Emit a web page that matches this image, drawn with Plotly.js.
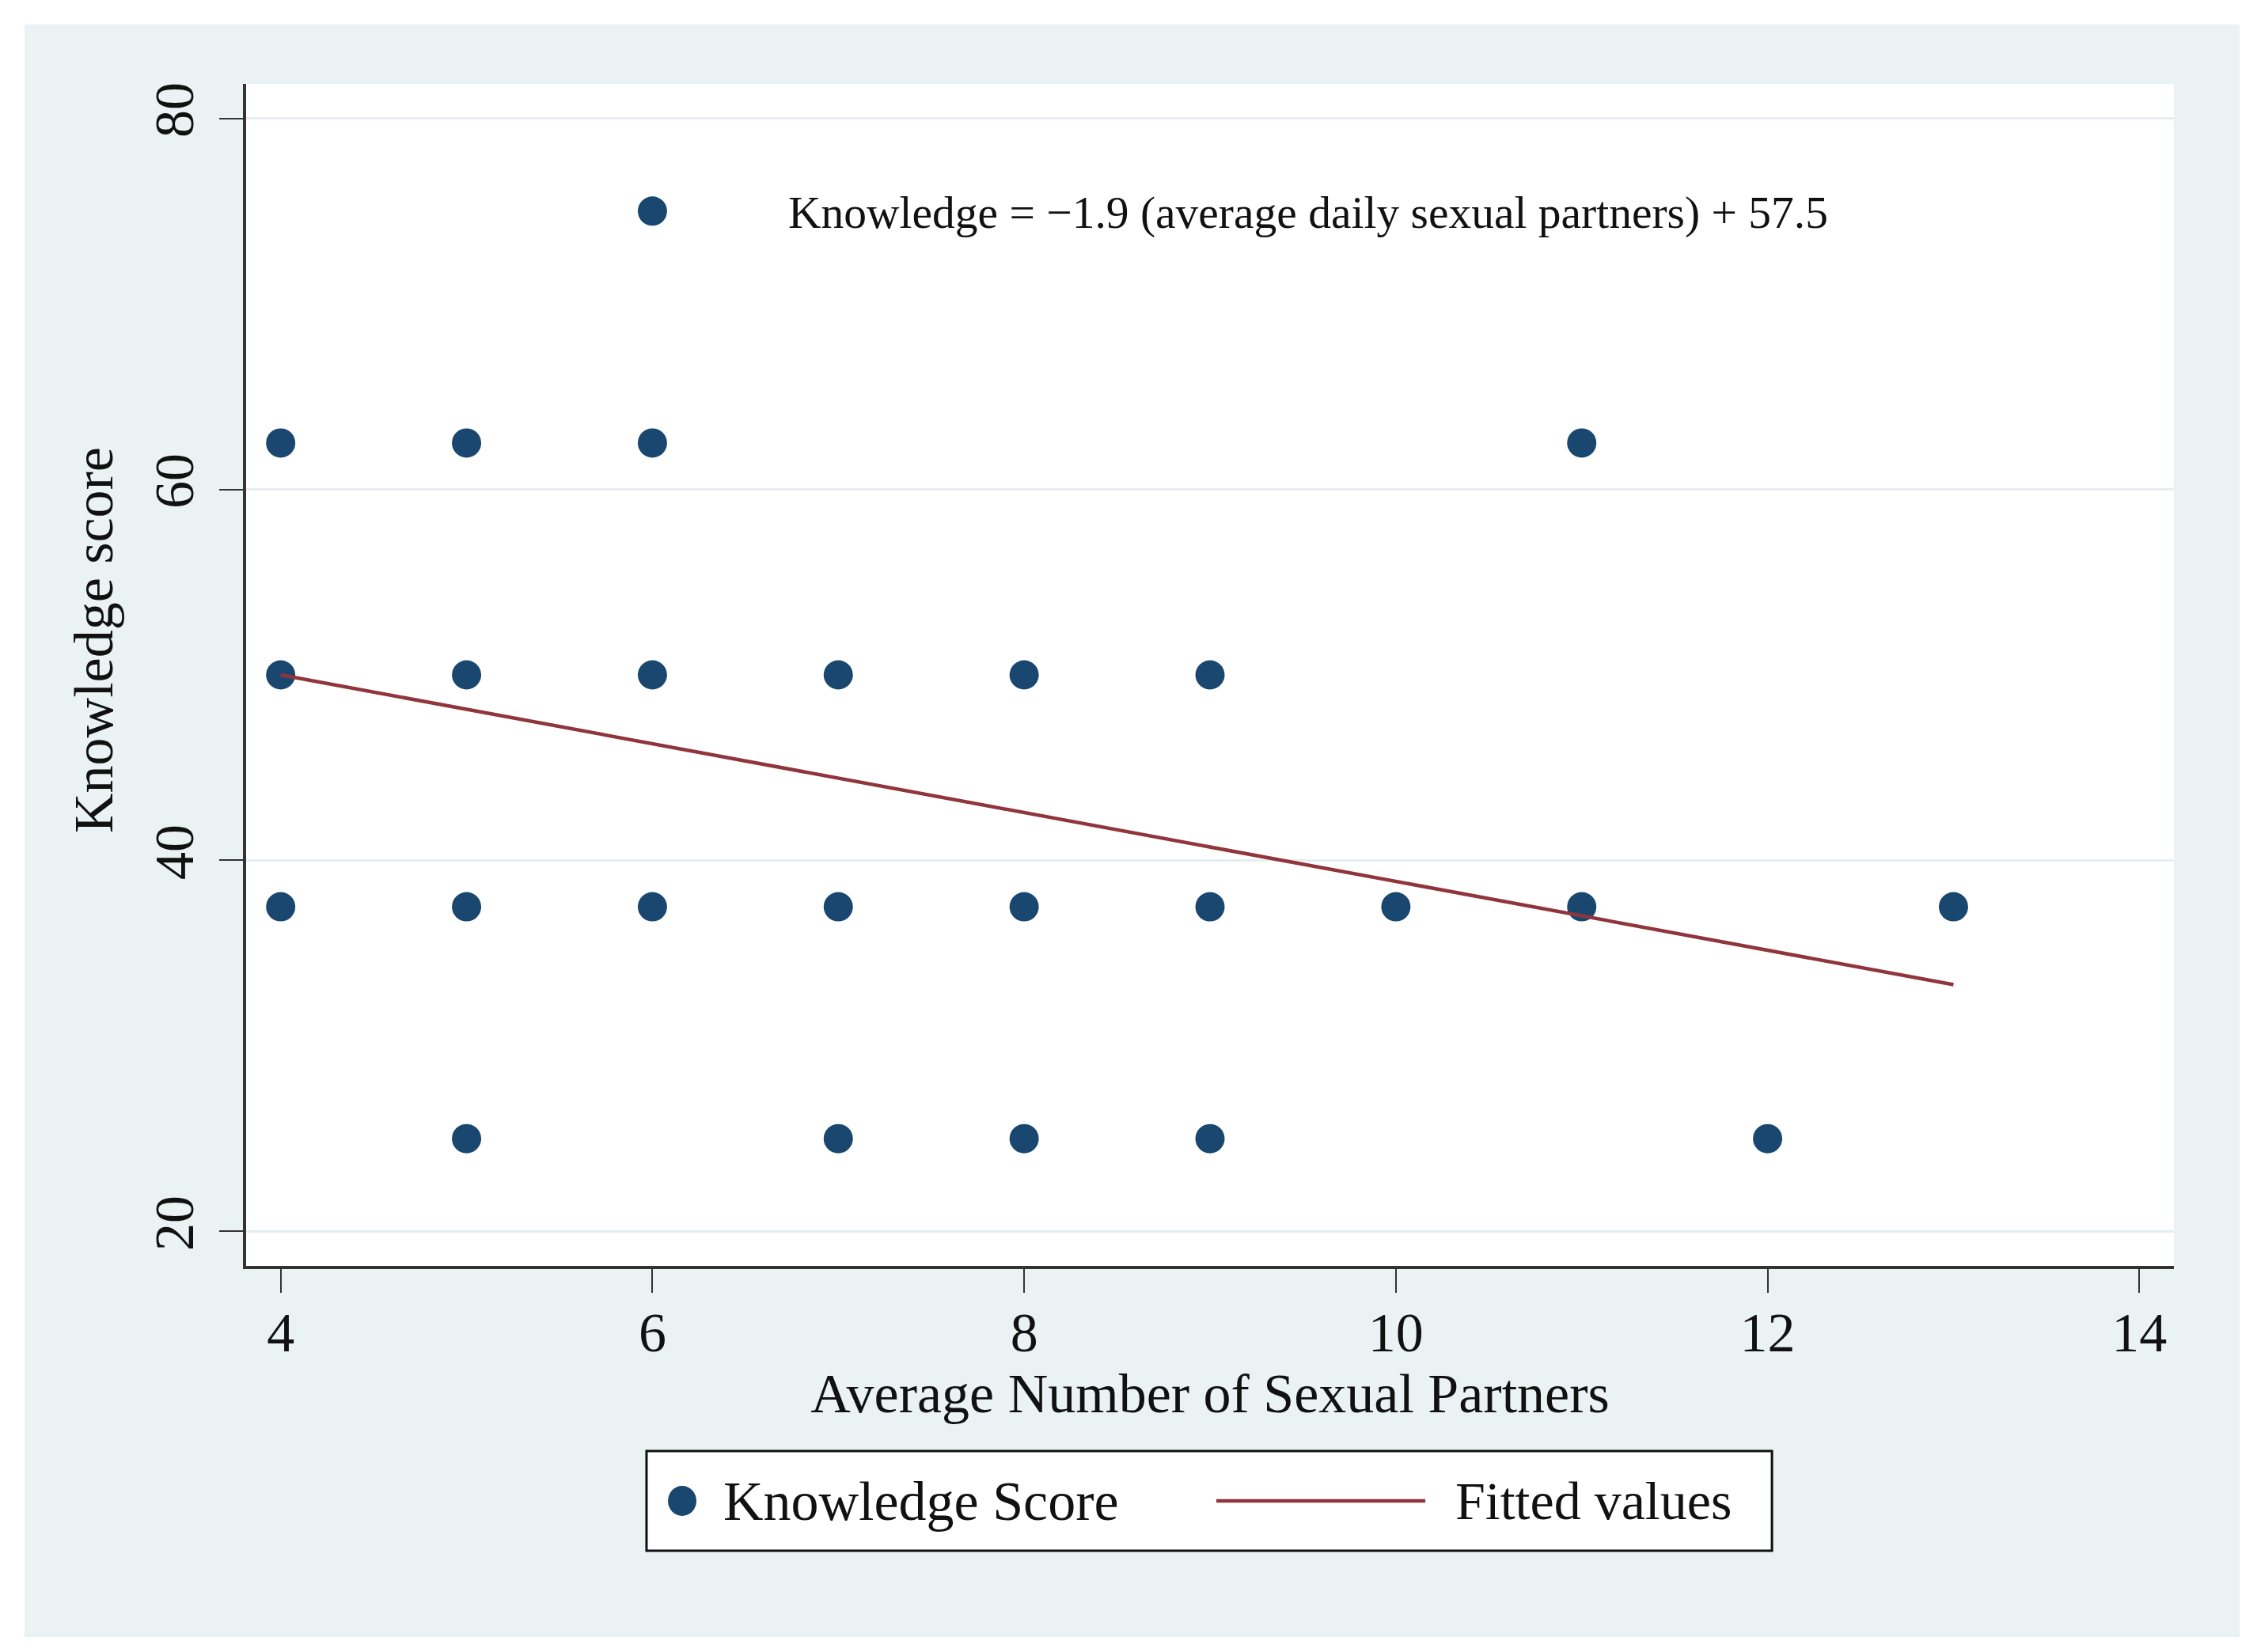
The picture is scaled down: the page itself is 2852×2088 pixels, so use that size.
<!DOCTYPE html>
<html>
<head>
<meta charset="utf-8">
<script src="https://cdn.plot.ly/plotly-3.0.1.min.js"></script>
<style>
  html, body { margin: 0; padding: 0; background: #ffffff; }
  #chart { position: absolute; left: 31px; top: 31px; width: 2799px; height: 2038px; }
</style>
</head>
<body>
<div id="chart"></div>
<script>
// Data
const partnersX = [4, 4, 4,
                   5, 5, 5, 5,
                   6, 6, 6, 6,
                   7, 7, 7,
                   8, 8, 8,
                   9, 9, 9,
                   10,
                   11, 11,
                   12,
                   13];
const knowledgeY = [62.5, 50, 37.5,
                    62.5, 50, 37.5, 25,
                    75, 62.5, 50, 37.5,
                    50, 37.5, 25,
                    50, 37.5, 25,
                    50, 37.5, 25,
                    37.5,
                    62.5, 37.5,
                    25,
                    37.5];
const fittedX = [4, 13];
const fittedY = [50.0, 33.3];

const xTicks = [4, 6, 8, 10, 12, 14];
const yTicks = [20, 40, 60, 80];

const seriesNames = ['Knowledge Score', 'Fitted values'];
const equationText = 'Knowledge = \u22121.9 (average daily sexual partners) + 57.5';
const xTitle = 'Average Number of Sexual Partners';
const yTitle = 'Knowledge score';

const navy = '#1a476f';
const maroon = '#90353b';
const panel = '#eaf2f3';
const serif = 'Liberation Serif, Times New Roman, serif';
const ink = '#111111';

const traces = [
  {
    type: 'scatter', mode: 'markers', name: seriesNames[0],
    x: partnersX, y: knowledgeY,
    marker: { color: navy, size: 37, line: { width: 0 } },
    showlegend: false, cliponaxis: false
  },
  {
    type: 'scatter', mode: 'lines', name: seriesNames[1],
    x: fittedX, y: fittedY,
    line: { color: maroon, width: 4.5 },
    showlegend: false
  }
];

// legend geometry (paper coordinates)
const lgY = -0.1988;
const layout = {
  width: 2799, height: 2038,
  paper_bgcolor: panel, plot_bgcolor: '#ffffff',
  margin: { l: 280, r: 83, t: 75, b: 469 },
  font: { family: serif, color: ink, size: 70 },
  showlegend: false,
  xaxis: {
    range: [3.814, 14.186], tickvals: xTicks, ticktext: xTicks.map(String),
    showgrid: false, zeroline: false,
    showline: true, linecolor: '#333333', linewidth: 4,
    ticks: 'outside', ticklen: 30, tickwidth: 2, tickcolor: '#333333',
    tickfont: { family: serif, size: 70, color: ink },
    ticklabelstandoff: -10,
    title: { text: xTitle, font: { family: serif, size: 70, color: ink }, standoff: 0 }
  },
  yaxis: {
    range: [18.14, 81.86], tickvals: yTicks, ticktext: yTicks.map(String),
    showgrid: true, gridcolor: '#e6eef1', gridwidth: 3, zeroline: false,
    showline: true, linecolor: '#333333', linewidth: 4,
    ticks: 'outside', ticklen: 30, tickwidth: 2, tickcolor: '#333333',
    tickangle: -90,
    tickfont: { family: serif, size: 70, color: ink },
    ticklabelstandoff: 5,
    title: { text: '' }
  },
  shapes: [
    { type: 'rect', xref: 'paper', yref: 'paper', x0: 0.2077, x1: 0.7915, y0: -0.2410, y1: -0.1566,
      fillcolor: '#ffffff', line: { color: ink, width: 3 }, layer: 'above' },
    { type: 'circle', xref: 'paper', yref: 'paper', xsizemode: 'pixel', ysizemode: 'pixel',
      xanchor: 0.2262, yanchor: lgY, x0: -18, x1: 18, y0: -19, y1: 19,
      fillcolor: navy, line: { width: 0 }, layer: 'above' },
    { type: 'line', xref: 'paper', yref: 'paper', x0: 0.5033, x1: 0.6117, y0: lgY, y1: lgY,
      line: { color: maroon, width: 4.5 }, layer: 'above' }
  ],
  annotations: [
    { text: yTitle, xref: 'paper', yref: 'paper', x: -0.0788, y: 0.5295,
      xanchor: 'center', yanchor: 'middle', textangle: -90, showarrow: false,
      font: { family: serif, size: 70, color: ink } },
    { text: equationText, xref: 'paper', yref: 'paper', x: 0.5510, y: 0.891,
      xanchor: 'center', yanchor: 'middle', showarrow: false,
      font: { family: serif, size: 57.5, color: ink } },
    { text: seriesNames[0], xref: 'paper', yref: 'paper', x: 0.2467, y: lgY,
      xanchor: 'left', yanchor: 'middle', showarrow: false,
      font: { family: serif, size: 70, color: ink } },
    { text: seriesNames[1], xref: 'paper', yref: 'paper', x: 0.6264, y: lgY,
      xanchor: 'left', yanchor: 'middle', showarrow: false,
      font: { family: serif, size: 68, color: ink } }
  ]
};

Plotly.newPlot('chart', traces, layout, { displayModeBar: false, staticPlot: true });
</script>
</body>
</html>
